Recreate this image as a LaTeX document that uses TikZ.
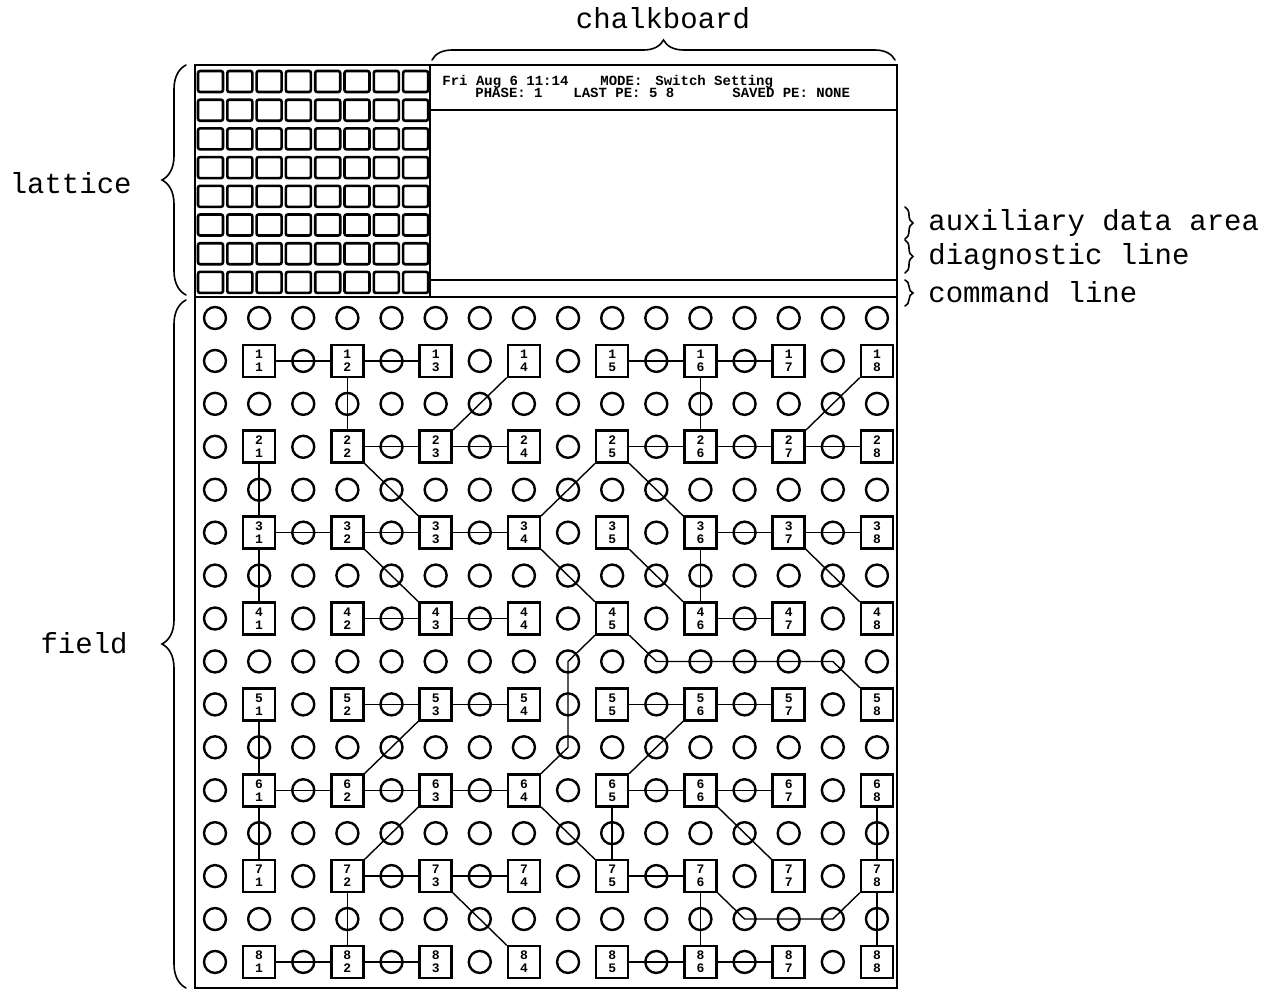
\documentclass[tikz,border=0pt]{standalone}
\usepackage{fontspec}
\newfontfamily\typewriter{Liberation Mono}
\usetikzlibrary{decorations.pathreplacing}

\tikzset{
  hole/.style={draw, circle, line width=1.2pt, minimum size=11pt, inner sep=0pt},
  pe/.style={draw, rectangle, line width=1.3pt, fill=white, minimum size=16pt, inner sep=0pt,
    align=center, font=\typewriter\bfseries\fontsize{6.5}{6.5}\selectfont},
  cell/.style={draw, rectangle, line width=1.3pt, rounded corners=1pt, minimum width=12.5pt, minimum height=10.5pt, inner sep=0pt},
  wire/.style={line width=0.7pt},
  curly/.style={decorate, decoration={brace, amplitude=#1}, line width=0.8pt},
  tag/.style={font=\typewriter\fontsize{14.5}{16}\selectfont, inner sep=0pt},
  screen/.style={font=\typewriter\bfseries\fontsize{7}{8}\selectfont, anchor=base west, inner sep=0pt}
}

\begin{document}
\begin{tikzpicture}[x=0.5pt, y=-0.5pt, line cap=round]
  \useasboundingbox (0,0) rectangle (1279,991);

  % frame
  \draw[line width=1.2pt] (195,65) rectangle (897,988);
  \draw[line width=1.2pt] (430,65) -- (430,297);
  \draw[line width=1.2pt] (195,297) -- (897,297);
  \draw[line width=0.8pt] (430,110) -- (897,110);
  \draw[line width=0.8pt] (430,280) -- (897,280);

  % lattice
  \foreach \r in {0,...,7}
    \foreach \c in {0,...,7}
      \node[cell] (l\r\c) at ({210.5+29.3*\c},{81.5+28.7*\r}) {};

  % chalkboard
  \node[screen] (date) at (442,85) {Fri Aug 6 11:14};
  \node[screen] (mode) at (600,85) {MODE:};
  \node[screen] (modeval) at (655,85) {Switch Setting};
  \node[screen] (phase) at (475,97) {PHASE: 1};
  \node[screen] (last) at (573,97) {LAST PE: 5  8};
  \node[screen] (saved) at (732,97) {SAVED PE: NONE};

  % field
  \foreach \r in {1,3,...,15}
    \foreach \c in {1,...,16}
      \node[hole] (o\c-\r) at ({215+(\c-1)*44.13},{318+(\r-1)*42.93}) {};
  \foreach \r in {2,4,...,16}
    \foreach \c in {1,3,...,15}
      \node[hole] (o\c-\r) at ({215+(\c-1)*44.13},{318+(\r-1)*42.93}) {};
  \foreach \i in {1,...,8}
    \foreach \j in {1,...,8}
      \node[pe] (p\i\j) at ({215+(2*\j-1)*44.13},{318+(2*\i-1)*42.93}) {\i\\\j};

  % switch settings
  \foreach \a/\b in {11/12,12/13,15/16,16/17, 22/23,23/24,25/26,26/27,27/28,
                     31/32,32/33,33/34,36/37,37/38, 42/43,43/44,46/47,
                     52/53,53/54,55/56,56/57, 61/62,62/63,63/64,65/66,66/67,
                     72/73,73/74,75/76, 81/82,82/83,85/86,86/87}
    \draw[wire] (p\a) -- (p\b);
  \foreach \a/\b in {12/22,16/26,21/31,31/41,36/46,51/61,61/71,65/75,68/78,72/82,76/86,78/88}
    \draw[wire] (p\a) -- (p\b);
  \foreach \a/\b in {14/23,18/27,22/33,25/34,25/36,32/43,34/45,35/46,37/48,
                     53/62,56/65,63/72,64/75,66/77,73/84}
    \draw[wire] (p\a) -- (p\b);
  \draw[wire] (p45) -- (o9-9.center) -- (o9-11.center) -- (p64);
  \draw[wire] (p45) -- (o11-9.center) -- (o15-9.center) -- (p58);
  \draw[wire] (p76) -- (o13-15.center) -- (o15-15.center) -- (p78);

  % labels
  \node[tag] (chalk) at (663,18) {chalkboard};
  \node[tag, anchor=east] (lat) at (132,183) {lattice};
  \node[tag, anchor=east] (fld) at (128,643) {field};
  \node[tag, anchor=west] (aux) at (928,223) {auxiliary data area};
  \node[tag, anchor=west] (diag) at (928,257) {diagnostic line};
  \node[tag, anchor=west] (cmd) at (928,292) {command line};

  \draw[curly=10pt] (432,60) -- (895,60);
  \draw[curly=12pt] (186,295) -- (186,65);
  \draw[curly=12pt] (186,988) -- (186,300);
  \draw[curly=4pt] (905,207) -- (905,239);
  \draw[curly=4pt] (905,240) -- (905,273);
  \draw[curly=4pt] (905,280) -- (905,306);
\end{tikzpicture}
\end{document}
